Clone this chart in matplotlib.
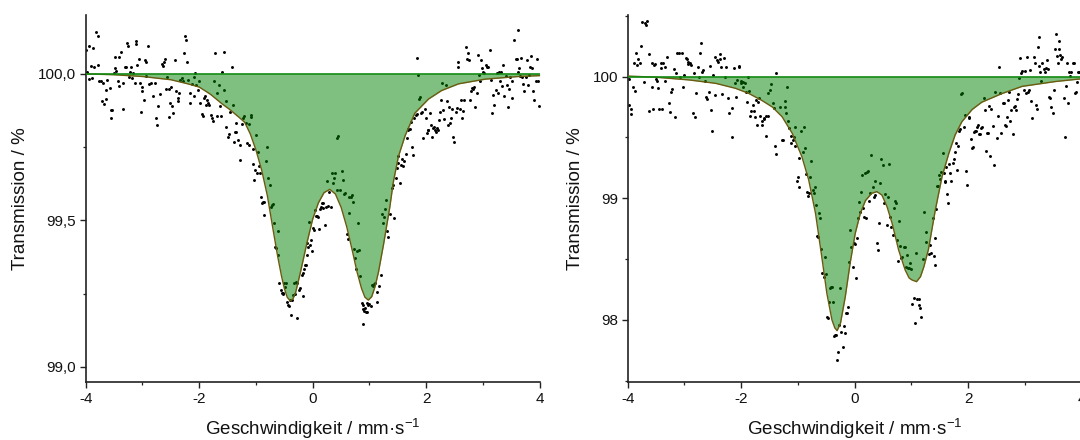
import matplotlib
matplotlib.use("Agg")
import matplotlib.pyplot as plt
from matplotlib.ticker import MultipleLocator, FuncFormatter

plt.rcParams['font.family'] = ['Liberation Sans', 'DejaVu Sans']
plt.rcParams['mathtext.fontset'] = 'custom'
plt.rcParams['mathtext.rm'] = 'Liberation Sans'
plt.rcParams['mathtext.default'] = 'regular'
plt.rcParams['axes.unicode_minus'] = False

# measured spectrum, left sample (velocity mm/s, transmission %)
left_points = [
    (-3.99, 100.082), (-3.98, 100.008), (-3.95, 99.983), (-3.94, 100.096), (-3.91, 100.027),
    (-3.89, 99.985), (-3.88, 100.088), (-3.85, 100.023), (-3.82, 100.144), (-3.79, 100.130),
    (-3.78, 100.031), (-3.76, 99.977), (-3.74, 99.974), (-3.72, 99.909), (-3.70, 99.970),
    (-3.68, 99.898), (-3.64, 99.914), (-3.64, 99.945), (-3.62, 99.980), (-3.58, 99.951),
    (-3.56, 99.877), (-3.55, 99.849), (-3.53, 99.877), (-3.51, 100.002), (-3.49, 100.059),
    (-3.48, 100.019), (-3.47, 100.010), (-3.44, 99.974), (-3.42, 99.959), (-3.41, 100.059),
    (-3.38, 100.073), (-3.35, 99.879), (-3.34, 99.968), (-3.31, 100.025), (-3.29, 100.023),
    (-3.27, 100.107), (-3.25, 100.096), (-3.23, 99.991), (-3.22, 100.008), (-3.20, 100.025),
    (-3.19, 99.985), (-3.17, 100.002), (-3.14, 99.970), (-3.12, 100.101), (-3.11, 100.113),
    (-3.10, 100.031), (-3.07, 100.050), (-3.05, 99.970), (-3.03, 99.869), (-3.01, 99.943),
    (-3.00, 99.954), (-2.98, 99.911), (-2.95, 100.046), (-2.94, 100.042), (-2.93, 99.993),
    (-2.90, 100.096), (-2.88, 99.966), (-2.85, 99.970), (-2.82, 99.925), (-2.78, 99.970),
    (-2.76, 99.849), (-2.74, 99.825), (-2.72, 99.891), (-2.69, 99.932), (-2.66, 100.034),
    (-2.64, 100.027), (-2.62, 100.042), (-2.60, 100.050), (-2.58, 99.948), (-2.56, 99.991),
    (-2.54, 99.948), (-2.53, 99.854), (-2.51, 99.900), (-2.50, 99.954), (-2.48, 99.889),
    (-2.46, 99.866), (-2.43, 100.046), (-2.41, 99.943), (-2.38, 99.906), (-2.37, 99.917),
    (-2.35, 99.936), (-2.34, 99.980), (-2.31, 99.985), (-2.29, 99.974), (-2.27, 100.071),
    (-2.25, 100.130), (-2.23, 100.114), (-2.22, 100.042), (-2.19, 99.980), (-2.17, 99.900),
    (-2.16, 99.934), (-2.13, 99.966), (-2.10, 99.991), (-2.09, 99.925), (-2.07, 100.002),
    (-2.06, 99.962), (-2.03, 99.945), (-2.01, 99.977), (-1.99, 99.902), (-1.96, 99.863),
    (-1.93, 99.857), (-1.91, 99.917), (-1.90, 99.923), (-1.88, 99.894), (-1.87, 99.911),
    (-1.84, 99.900), (-1.82, 99.894), (-1.80, 99.860), (-1.78, 99.849), (-1.76, 99.840),
    (-1.74, 99.977), (-1.72, 100.071), (-1.69, 99.857), (-1.68, 99.936), (-1.66, 99.962),
    (-1.64, 99.889), (-1.62, 99.857), (-1.59, 100.008), (-1.57, 100.073), (-1.56, 99.945),
    (-1.53, 99.906), (-1.52, 99.820), (-1.50, 99.786), (-1.47, 99.795), (-1.46, 99.871),
    (-1.43, 100.025), (-1.41, 99.894), (-1.39, 99.769), (-1.37, 99.800),
    (-1.35, 99.834), (-1.36, 99.800), (-1.29, 99.706), (-1.31, 99.775), (-1.28, 99.758),
    (-1.25, 99.829), (-1.22, 99.849), (-1.21, 99.857), (-1.18, 99.832), (-1.15, 99.763),
    (-1.13, 99.758), (-1.12, 99.829), (-1.09, 99.860), (-1.08, 99.854), (-1.06, 99.743),
    (-1.05, 99.693), (-1.03, 99.638), (-1.02, 99.672), (-1.00, 99.792), (-0.99, 99.661),
    (-0.96, 99.732), (-0.94, 99.684), (-0.93, 99.663), (-0.92, 99.579), (-0.90, 99.559),
    (-0.88, 99.564), (-0.86, 99.564), (-0.85, 99.519), (-0.82, 99.704), (-0.80, 99.750),
    (-0.78, 99.644), (-0.76, 99.621), (-0.74, 99.547), (-0.72, 99.553), (-0.70, 99.556),
    (-0.69, 99.490), (-0.66, 99.408), (-0.65, 99.405), (-0.62, 99.465), (-0.61, 99.382),
    (-0.59, 99.286), (-0.56, 99.261), (-0.55, 99.251), (-0.53, 99.254), (-0.52, 99.249),
    (-0.505, 99.288), (-0.49, 99.272), (-0.47, 99.288), (-0.45, 99.220), (-0.43, 99.212),
    (-0.42, 99.208), (-0.40, 99.229), (-0.39, 99.177), (-0.37, 99.229), (-0.35, 99.246),
    (-0.33, 99.288), (-0.31, 99.249), (-0.29, 99.291), (-0.28, 99.286), (-0.27, 99.166),
    (-0.25, 99.263), (-0.22, 99.268), (-0.19, 99.314), (-0.18, 99.242), (-0.165, 99.320),
    (-0.15, 99.333), (-0.135, 99.348), (-0.12, 99.348), (-0.105, 99.422), (-0.094, 99.382),
    (-0.077, 99.408), (-0.059, 99.496), (-0.047, 99.416), (-0.035, 99.433), (-0.018, 99.394),
    (0.00, 99.473), (0.023, 99.468), (0.041, 99.534), (0.058, 99.515), (0.082, 99.515),
    (0.10, 99.511), (0.117, 99.470), (0.129, 99.538), (0.14, 99.547), (0.158, 99.559),
    (0.176, 99.542), (0.188, 99.561), (0.217, 99.485), (0.235, 99.545), (0.258, 99.636),
    (0.276, 99.550), (0.293, 99.598), (0.33, 99.547), (0.34, 99.661), (0.364, 99.627),
    (0.376, 99.644), (0.393, 99.663), (0.423, 99.604), (0.434, 99.780), (0.452, 99.788),
    (0.481, 99.604), (0.511, 99.667), (0.540, 99.638), (0.552, 99.590), (0.570, 99.595),
    (0.61, 99.454), (0.625, 99.436), (0.635, 99.581), (0.646, 99.527), (0.669, 99.581),
    (0.687, 99.587), (0.705, 99.564), (0.728, 99.402), (0.746, 99.371), (0.763, 99.333),
    (0.787, 99.397), (0.804, 99.490), (0.822, 99.399), (0.834, 99.311), (0.863, 99.217),
    (0.878, 99.197), (0.884, 99.147), (0.893, 99.212), (0.904, 99.192), (0.922, 99.200),
    (0.94, 99.189), (0.951, 99.189), (0.963, 99.217), (0.981, 99.212), (0.998, 99.215),
    (1.02, 99.208), (1.04, 99.280), (1.057, 99.276), (1.08, 99.283), (1.098, 99.286),
    (1.127, 99.223), (1.139, 99.257), (1.17, 99.276), (1.198, 99.314), (1.216, 99.522),
    (1.233, 99.490), (1.257, 99.511), (1.274, 99.538), (1.29, 99.568), (1.315, 99.465),
    (1.33, 99.443), (1.362, 99.522), (1.403, 99.610), (1.421, 99.621), (1.433, 99.507),
    (1.462, 99.644), (1.48, 99.678), (1.497, 99.697), (1.509, 99.720), (1.538, 99.627),
    (1.556, 99.689), (1.58, 99.709), (1.597, 99.684), (1.615, 99.704), (1.638, 99.727),
    (1.656, 99.780), (1.673, 99.807), (1.685, 99.811), (1.715, 99.811), (1.732, 99.837),
    (1.756, 99.752), (1.773, 99.724), (1.791, 99.849), (1.814, 99.860), (1.832, 99.863),
    (1.845, 100.053), (1.855, 99.997), (1.873, 99.914), (1.891, 99.920), (1.908, 99.868),
    (1.932, 99.871), (1.949, 99.780), (1.979, 99.879), (1.991, 99.849), (2.008, 99.797),
    (2.026, 99.807), (2.038, 99.809), (2.067, 99.868), (2.085, 99.826), (2.096, 99.784),
    (2.126, 99.815), (2.143, 99.820), (2.155, 99.807), (2.167, 99.803), (2.184, 99.815),
    (2.202, 99.809), (2.226, 99.841), (2.243, 99.871), (2.261, 99.911), (2.284, 99.970),
    (2.302, 99.877), (2.32, 99.845), (2.343, 99.962), (2.361, 99.906), (2.378, 99.826),
    (2.402, 99.886), (2.42, 99.832), (2.437, 99.849), (2.449, 99.879), (2.478, 99.786),
    (2.496, 99.769), (2.519, 99.871), (2.537, 99.883), (2.555, 100.023), (2.566, 100.039),
    (2.596, 99.879), (2.613, 99.911), (2.625, 99.849), (2.654, 99.875), (2.672, 99.911),
    (2.695, 100.093), (2.713, 100.050), (2.731, 100.071), (2.754, 100.046), (2.772, 99.911),
    (2.789, 99.940), (2.813, 99.951), (2.831, 99.948), (2.848, 99.954), (2.86, 99.886),
    (2.889, 99.934), (2.907, 100.065), (2.93, 99.997), (2.948, 99.974), (2.966, 100.046),
    (2.989, 100.019), (3.007, 100.005), (3.024, 100.002), (3.048, 100.031), (3.066, 100.023),
    (3.083, 100.025), (3.124, 100.080), (3.142, 99.980), (3.165, 99.868), (3.183, 99.928),
    (3.201, 99.894), (3.224, 99.945), (3.242, 100.002), (3.259, 99.934), (3.283, 100.005),
    (3.30, 99.974), (3.318, 100.005), (3.342, 99.957), (3.359, 100.031), (3.377, 99.925),
    (3.40, 99.993), (3.418, 99.962), (3.447, 99.886), (3.459, 99.948), (3.477, 99.991),
    (3.506, 99.917), (3.518, 99.977), (3.553, 100.116), (3.577, 100.050), (3.594, 100.050),
    (3.612, 100.150), (3.624, 100.008), (3.635, 100.019), (3.653, 99.993), (3.671, 100.053),
    (3.682, 99.991), (3.712, 99.966), (3.729, 99.943), (3.753, 99.991), (3.77, 100.048),
    (3.788, 99.962), (3.812, 99.997), (3.829, 100.023), (3.847, 100.061), (3.859, 100.019),
    (3.888, 99.940), (3.905, 99.911), (3.929, 99.977), (3.947, 100.050), (3.964, 99.974),
    (3.988, 99.889),
]

# fitted doublet, left sample
left_fit_x = [-4.00, -3.50, -3.00, -2.50, -2.20, -2.00, -1.80, -1.60, -1.46, -1.30, -1.20,
              -1.10, -1.00, -0.90, -0.80, -0.70, -0.62, -0.55, -0.50, -0.45, -0.40, -0.35,
              -0.30, -0.22, -0.10, 0.00, 0.10, 0.20, 0.30, 0.40, 0.50, 0.60, 0.70, 0.78,
              0.86, 0.92, 0.98, 1.04, 1.10, 1.16, 1.25, 1.36, 1.42, 1.51, 1.63, 1.80, 2.04,
              2.27, 2.57, 3.04, 3.62, 4.00]
left_fit_y = [100.000, 99.997, 99.991, 99.980, 99.966, 99.955, 99.930, 99.898, 99.878, 99.852,
              99.835, 99.795, 99.740, 99.672, 99.585, 99.470, 99.380, 99.310, 99.268, 99.238,
              99.226, 99.232, 99.255, 99.320, 99.425, 99.505, 99.560, 99.595, 99.606, 99.590,
              99.545, 99.478, 99.395, 99.325, 99.268, 99.238, 99.228, 99.240, 99.275, 99.325,
              99.420, 99.547, 99.630, 99.718, 99.790, 99.866, 99.914, 99.943, 99.966, 99.982,
              99.991, 99.994]

# measured spectrum, right sample
right_points = [
    (-3.98, 99.978), (-3.97, 99.767), (-3.95, 99.693), (-3.94, 99.732), (-3.91, 99.912),
    (-3.88, 99.885), (-3.89, 100.115), (-3.85, 100.192), (-3.84, 100.096), (-3.81, 100.142),
    (-3.79, 100.115), (-3.77, 100.252), (-3.75, 100.452), (-3.70, 100.438), (-3.68, 100.425),
    (-3.66, 100.460), (-3.72, 99.959), (-3.63, 100.186), (-3.62, 99.721), (-3.58, 100.110),
    (-3.57, 99.912), (-3.56, 99.732), (-3.54, 100.096), (-3.52, 100.104), (-3.50, 99.978),
    (-3.48, 99.967), (-3.47, 99.904), (-3.44, 99.732), (-3.42, 100.068), (-3.41, 100.115),
    (-3.395, 99.732), (-3.37, 100.115), (-3.35, 99.967), (-3.34, 100.077), (-3.31, 100.159),
    (-3.27, 99.781), (-3.25, 99.712), (-3.23, 99.877), (-3.22, 99.896), (-3.19, 100.060),
    (-3.17, 99.666), (-3.15, 100.027), (-3.13, 100.192), (-3.10, 100.197), (-3.07, 100.000),
    (-3.05, 100.197), (-3.03, 99.912), (-3.01, 100.014), (-2.98, 100.151), (-2.95, 100.142),
    (-2.94, 100.104), (-2.93, 100.123), (-2.90, 100.115), (-2.88, 100.096), (-2.85, 99.699),
    (-2.84, 100.027), (-2.82, 99.666), (-2.80, 99.863), (-2.76, 100.077), (-2.74, 100.000),
    (-2.72, 100.192), (-2.70, 100.274), (-2.69, 100.041), (-2.68, 100.055), (-2.64, 99.967),
    (-2.62, 99.836), (-2.60, 99.814), (-2.57, 99.877), (-2.555, 100.088), (-2.54, 99.726),
    (-2.51, 99.556), (-2.50, 100.014), (-2.47, 100.159), (-2.455, 99.849), (-2.43, 100.137),
    (-2.41, 100.123), (-2.38, 100.142), (-2.37, 100.186), (-2.35, 100.077), (-2.33, 99.858),
    (-2.31, 100.151), (-2.29, 100.000), (-2.27, 100.077), (-2.23, 99.822), (-2.21, 99.699),
    (-2.17, 99.740), (-2.16, 99.507), (-2.13, 100.068), (-2.11, 99.951), (-2.09, 99.830),
    (-2.07, 99.973), (-2.04, 100.088), (-2.03, 100.077), (-2.01, 99.945), (-2.00, 99.967),
    (-1.97, 99.959), (-1.96, 99.912), (-1.93, 99.951), (-1.91, 99.877), (-1.88, 100.000),
    (-1.90, 99.795), (-1.86, 99.885), (-1.84, 99.677), (-1.82, 99.721), (-1.80, 99.767),
    (-1.78, 99.721), (-1.76, 99.666), (-1.74, 99.808), (-1.72, 99.603), (-1.70, 99.795),
    (-1.68, 99.822), (-1.66, 99.677), (-1.64, 99.638), (-1.63, 99.603), (-1.60, 99.649),
    (-1.59, 99.658), (-1.56, 99.677), (-1.57, 99.512), (-1.53, 99.677), (-1.52, 99.863),
    (-1.49, 99.890), (-1.47, 99.940), (-1.445, 99.781), (-1.43, 99.740), (-1.40, 99.430),
    (-1.39, 99.364), (-1.385, 100.033),
    (-1.31, 99.748), (-1.28, 99.479), (-1.27, 99.479), (-1.23, 99.748), (-1.22, 99.803),
    (-1.19, 99.912), (-1.21, 99.699), (-1.175, 99.638), (-1.15, 99.575), (-1.13, 99.512),
    (-1.116, 99.458), (-1.093, 99.479), (-1.075, 99.501), (-1.058, 99.584), (-1.046, 99.430),
    (-1.016, 99.145), (-0.999, 99.173), (-0.987, 99.090), (-0.975, 99.329), (-0.94, 99.556),
    (-0.899, 99.589), (-0.917, 99.384), (-0.881, 99.411), (-0.858, 99.200), (-0.84, 99.055),
    (-0.823, 99.019), (-0.811, 99.041), (-0.782, 99.178), (-0.764, 99.310), (-0.74, 99.068),
    (-0.723, 99.047), (-0.705, 99.096), (-0.682, 98.945), (-0.664, 98.690), (-0.646, 98.685),
    (-0.623, 98.882), (-0.605, 98.836), (-0.588, 98.581), (-0.576, 98.384), (-0.547, 98.356),
    (-0.529, 98.521), (-0.505, 98.378), (-0.488, 98.027), (-0.47, 98.014), (-0.447, 98.151),
    (-0.429, 98.260), (-0.411, 98.268), (-0.40, 98.274), (-0.382, 98.151), (-0.37, 97.868),
    (-0.353, 97.877), (-0.329, 97.877), (-0.312, 97.671), (-0.294, 97.740), (-0.27, 97.959),
    (-0.253, 98.260), (-0.235, 97.904), (-0.212, 97.775), (-0.194, 97.951), (-0.177, 97.896),
    (-0.153, 98.055), (-0.135, 98.055), (-0.118, 98.110), (-0.094, 98.479), (-0.077, 98.740),
    (-0.059, 98.597), (-0.036, 98.433), (-0.018, 98.630), (0.00, 98.625), (0.023, 98.342),
    (0.041, 98.671), (0.058, 98.836), (0.082, 98.973), (0.10, 98.890), (0.117, 99.055),
    (0.129, 99.192), (0.14, 98.918), (0.158, 98.849), (0.176, 99.205), (0.20, 98.836),
    (0.217, 99.219), (0.235, 99.227), (0.258, 98.981), (0.276, 99.041), (0.293, 99.356),
    (0.317, 99.096), (0.334, 99.008), (0.352, 99.145), (0.364, 99.027), (0.393, 98.630),
    (0.411, 98.575), (0.434, 98.800), (0.452, 99.129), (0.47, 99.321), (0.493, 99.274),
    (0.511, 98.964), (0.54, 99.036), (0.57, 98.781), (0.587, 99.014), (0.599, 99.282),
    (0.628, 98.844), (0.646, 98.767), (0.669, 98.699), (0.687, 98.918), (0.716, 98.981),
    (0.728, 98.959), (0.746, 98.658), (0.763, 98.488), (0.787, 98.816), (0.804, 98.608),
    (0.822, 98.507), (0.834, 98.521), (0.863, 98.603), (0.893, 98.603), (0.904, 98.433),
    (0.922, 98.534), (0.94, 98.425), (0.951, 98.425), (0.981, 98.466), (0.998, 98.416),
    (1.01, 98.132), (1.04, 98.178), (1.057, 97.978), (1.08, 98.548), (1.098, 98.170),
    (1.127, 98.170), (1.139, 98.123), (1.157, 98.096), (1.175, 98.022), (1.198, 98.499),
    (1.216, 98.890), (1.255, 98.726), (1.26, 98.644),
    (1.315, 98.542), (1.333, 98.616), (1.35, 98.553), (1.374, 98.836), (1.392, 98.526),
    (1.409, 98.452), (1.421, 98.671), (1.433, 98.910), (1.45, 99.101), (1.468, 99.101),
    (1.491, 99.192), (1.509, 99.156), (1.527, 99.219), (1.55, 99.375), (1.568, 99.205),
    (1.585, 99.137), (1.597, 99.145), (1.609, 99.255), (1.627, 99.036), (1.644, 98.964),
    (1.668, 99.282), (1.685, 99.211), (1.703, 99.145), (1.726, 99.293), (1.744, 99.321),
    (1.762, 99.384), (1.785, 99.458), (1.803, 99.233), (1.82, 99.430), (1.844, 99.556),
    (1.861, 99.567), (1.879, 99.858), (1.891, 99.868), (1.92, 99.584), (1.938, 99.685),
    (1.961, 99.227), (1.979, 99.110), (2.008, 99.658), (2.02, 99.666), (2.055, 99.485),
    (2.067, 99.411), (2.079, 99.425), (2.096, 99.548), (2.114, 99.556), (2.138, 99.556),
    (2.155, 99.589), (2.173, 99.603), (2.196, 99.529), (2.214, 99.529), (2.232, 99.575),
    (2.243, 99.584), (2.273, 99.822), (2.29, 99.726), (2.314, 99.392), (2.331, 99.540),
    (2.349, 99.540), (2.361, 99.759), (2.39, 99.348), (2.408, 99.732), (2.431, 99.595),
    (2.449, 99.274), (2.478, 99.877), (2.508, 99.493), (2.525, 99.677), (2.549, 100.082),
    (2.566, 99.868), (2.584, 99.534), (2.607, 99.781), (2.625, 99.786), (2.643, 99.603),
    (2.666, 99.595), (2.684, 99.671), (2.701, 99.808), (2.725, 99.877), (2.743, 99.638),
    (2.76, 99.726), (2.784, 99.529), (2.801, 99.753), (2.819, 99.759), (2.842, 99.726),
    (2.86, 99.814), (2.878, 99.858), (2.901, 99.986), (2.919, 100.151), (2.936, 100.027),
    (2.948, 100.049), (2.977, 99.890), (2.995, 100.049), (3.019, 99.868), (3.036, 100.159),
    (3.054, 99.877), (3.066, 99.890), (3.095, 100.055), (3.113, 99.803), (3.124, 99.658),
    (3.154, 100.159), (3.171, 100.115), (3.195, 99.767), (3.213, 99.732), (3.23, 100.241),
    (3.242, 100.323), (3.254, 100.088), (3.271, 100.041), (3.289, 99.967), (3.301, 100.115),
    (3.33, 100.060), (3.348, 100.041), (3.371, 100.068), (3.389, 100.137), (3.406, 100.060),
    (3.43, 99.830), (3.447, 99.822), (3.465, 99.753), (3.489, 99.699), (3.506, 99.890),
    (3.524, 100.225), (3.547, 100.351), (3.565, 100.170), (3.583, 100.115), (3.594, 100.225),
    (3.606, 100.296), (3.624, 100.178), (3.641, 100.142), (3.653, 100.164), (3.682, 99.822),
    (3.70, 99.501), (3.724, 99.923), (3.741, 100.110), (3.759, 99.786), (3.771, 100.041),
    (3.80, 100.005), (3.818, 100.041), (3.841, 100.115), (3.859, 100.110), (3.888, 99.868),
    (3.90, 99.877), (3.917, 99.959), (3.935, 100.041), (3.947, 100.041),
]

# fitted doublet, right sample
right_fit_x = [-4.00, -3.50, -2.92, -2.45, -2.10, -1.87, -1.63, -1.45, -1.28, -1.10, -0.93,
               -0.81, -0.69, -0.58, -0.49, -0.40, -0.35, -0.31, -0.25, -0.165, -0.08, 0.01,
               0.10, 0.19, 0.30, 0.39, 0.48, 0.57, 0.66, 0.775, 0.89, 0.96, 1.01, 1.09, 1.16,
               1.22, 1.30, 1.42, 1.54, 1.66, 1.77, 1.89, 2.07, 2.24, 2.59, 2.95, 3.54, 3.95, 4.00]
right_fit_y = [100.005, 99.995, 99.973, 99.945, 99.904, 99.863, 99.803, 99.750, 99.671, 99.534,
               99.342, 99.151, 98.877, 98.521, 98.219, 98.000, 97.935, 97.912, 97.973, 98.192,
               98.466, 98.712, 98.877, 98.981, 99.041, 99.055, 99.027, 98.932, 98.795, 98.575,
               98.411, 98.345, 98.329, 98.315, 98.356, 98.438, 98.580, 98.900, 99.178, 99.370,
               99.520, 99.630, 99.730, 99.790, 99.860, 99.920, 99.960, 99.980, 99.981]

baseline = 100.0

fig = plt.figure(figsize=(10.8, 4.4), dpi=100)
ax1 = fig.add_axes([0.0794, 0.132, 0.4203, 0.834])
ax2 = fig.add_axes([0.5812, 0.132, 0.4203, 0.834])

panels = [
    (ax1, left_points, left_fit_x, left_fit_y, (98.949, 100.201), 0.5, 0.25,
     lambda v, p: f"{v:.1f}".replace('.', ','), -0.125),
    (ax2, right_points, right_fit_x, right_fit_y, (97.491, 100.507), 1.0, 0.5,
     lambda v, p: f"{v:.0f}", -0.096),
]

for ax, pts, fx, fy, ylim, major, minor, fmt, ylab_x in panels:
    px = [p[0] for p in pts]
    py = [p[1] for p in pts]
    ax.scatter(px, py, s=4.5, c='black', linewidths=0, zorder=1)
    ax.fill_between(fx, fy, baseline, color='#008000', alpha=0.5, linewidth=0, zorder=2)
    ax.plot(fx, fy, color='#6b5a10', lw=1.0, zorder=3)
    ax.plot([-4, 4], [baseline, baseline], color='#108a10', lw=1.2, zorder=3)

    ax.set_xlim(-4, 4)
    ax.set_ylim(*ylim)
    ax.xaxis.set_major_locator(MultipleLocator(2))
    ax.xaxis.set_minor_locator(MultipleLocator(1))
    ax.yaxis.set_major_locator(MultipleLocator(major))
    ax.yaxis.set_minor_locator(MultipleLocator(minor))
    ax.yaxis.set_major_formatter(FuncFormatter(fmt))

    for side in ['top', 'right']:
        ax.spines[side].set_visible(False)
    for side in ['left', 'bottom']:
        ax.spines[side].set_linewidth(1.2)
        ax.spines[side].set_color('#222222')
    ax.tick_params(which='major', direction='out', length=4, width=1.0, color='#222222',
                   labelsize=11, labelcolor='#111111', pad=3)
    ax.tick_params(which='minor', direction='out', length=2.5, width=0.9, color='#222222')

    ax.set_ylabel('Transmission / %', fontsize=13.5, color='#111111')
    ax.set_xlabel(r'Geschwindigkeit / mm·s$^{-1}$', fontsize=13.5, color='#111111')
    ax.yaxis.set_label_coords(ylab_x, 0.5)
    ax.xaxis.set_label_coords(0.5, -0.095)

fig.savefig('out.png', dpi=100)
